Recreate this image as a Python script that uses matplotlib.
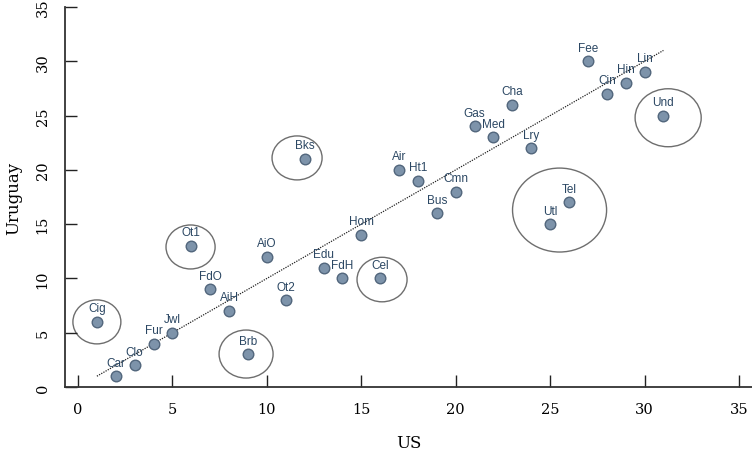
import matplotlib
matplotlib.use("Agg")
import matplotlib.pyplot as plt
from matplotlib.patches import Ellipse

labels = ["Car", "Clo", "Fur", "Jwl", "Cig", "AiH", "FdO", "Ot1", "Brb", "AiO",
          "Ot2", "Bks", "Edu", "FdH", "Hom", "Cel", "Air", "Ht1", "Bus", "Cmn",
          "Gas", "Med", "Cha", "Lry", "Utl", "Tel", "Fee", "Cin", "Hin", "Lin", "Und"]
us = [2, 3, 4, 5, 1, 8, 7, 6, 9, 10,
      11, 12, 13, 14, 15, 16, 17, 18, 19, 20,
      21, 22, 23, 24, 25, 26, 27, 28, 29, 30, 31]
uruguay = [1, 2, 4, 5, 6, 7, 9, 13, 3, 12,
           8, 21, 11, 10, 14, 10, 20, 19, 16, 18,
           24, 23, 26, 22, 15, 17, 30, 27, 28, 29, 25]

trend_x = [1, 31]
trend_y = [1, 31]

# highlighted groups: (center x, center y, width, height)
circle_cx = [1.0, 5.96, 11.6, 8.9, 16.1, 31.25, 25.5]
circle_cy = [6.0, 12.9, 21.1, 3.04, 9.9, 24.8, 16.3]
circle_w = [2.54, 2.6, 2.65, 2.86, 2.65, 3.5, 4.98]
circle_h = [4.05, 4.05, 4.05, 4.42, 4.1, 5.34, 7.73]

x_ticks = [0, 5, 10, 15, 20, 25, 30, 35]
y_ticks = [0, 5, 10, 15, 20, 25, 30, 35]

fig = plt.figure(figsize=(7.52, 4.56), dpi=100)
ax = fig.add_axes([0.0864, 0.149, 1 - 0.0864, 0.9825 - 0.149])

serif = ["DejaVu Serif"]
sans = ["Liberation Sans", "DejaVu Sans"]

ax.plot(trend_x, trend_y, linestyle=(0, (1, 1)), color="#222222", linewidth=0.9, zorder=2)

for cx, cy, w, h in zip(circle_cx, circle_cy, circle_w, circle_h):
    ax.add_patch(Ellipse((cx, cy), w, h, fill=False, edgecolor="#6e6e6e", linewidth=1.0, zorder=1))

ax.scatter(us, uruguay, s=58, facecolor="#7d93aa", edgecolor="#52667c", linewidth=1.0, zorder=3)

for lab, x, y in zip(labels, us, uruguay):
    ax.annotate(lab, (x, y), xytext=(0, 5.5), textcoords="offset points",
                ha="center", va="bottom", fontsize=8.5, color="#2b4763",
                family=sans, zorder=4)

ax.set_xlim(-0.69, 35.69)
ax.set_ylim(0, 35)
ax.set_xticks(x_ticks)
ax.set_yticks(y_ticks)
ax.set_xticklabels([str(t) for t in x_ticks], family=serif, fontsize=10.5)
ax.set_yticklabels([str(t) for t in y_ticks], family=serif, fontsize=10.5, rotation=90, va="center")
ax.tick_params(axis="both", direction="in", length=8.5, width=1.0, color="#222222")
ax.tick_params(axis="x", pad=11)
ax.tick_params(axis="y", pad=11)

for side in ["top", "right"]:
    ax.spines[side].set_visible(False)
for side in ["left", "bottom"]:
    ax.spines[side].set_linewidth(1.3)
    ax.spines[side].set_color("#333333")

ax.set_xlabel("US", family=serif, fontsize=12, labelpad=13)
ax.set_ylabel("Uruguay", family=serif, fontsize=12, labelpad=10)

fig.savefig("out.png", dpi=100)
